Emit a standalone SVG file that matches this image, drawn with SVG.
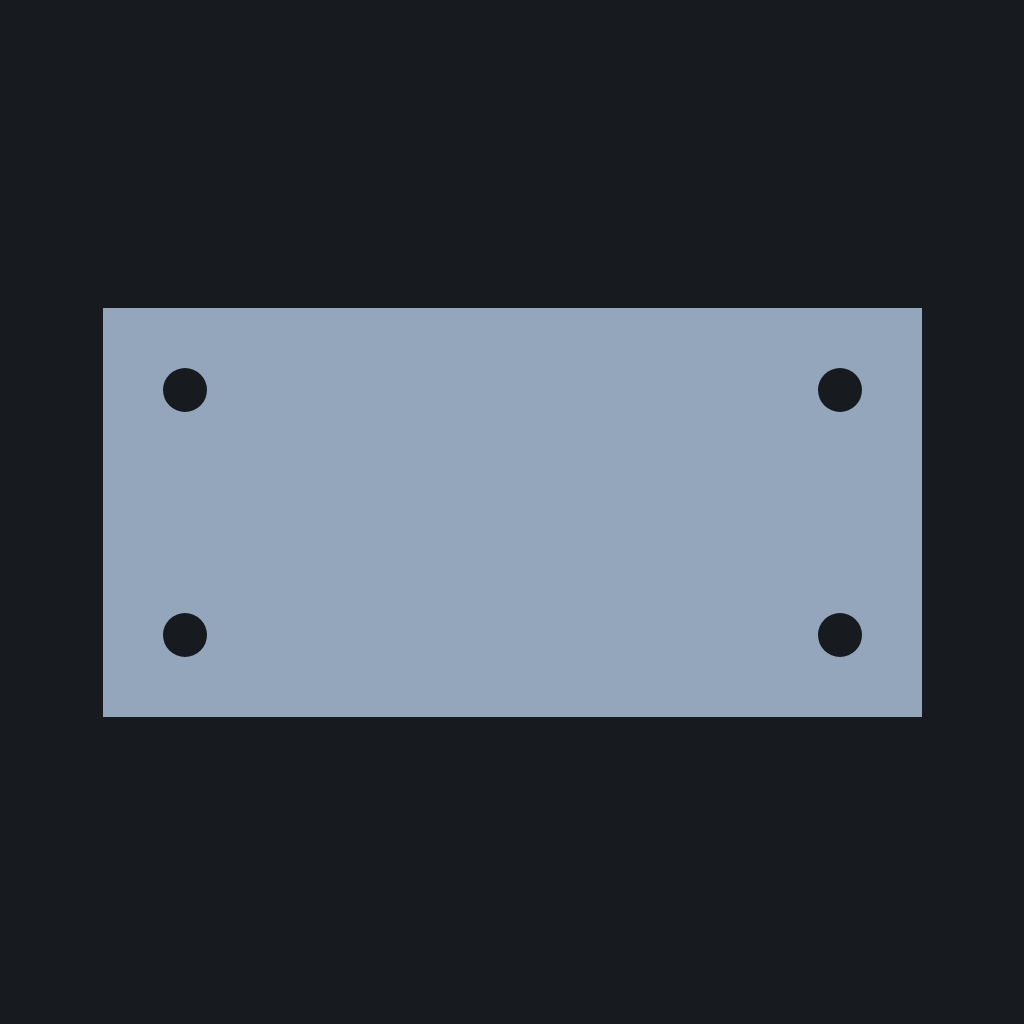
<svg xmlns="http://www.w3.org/2000/svg" width="1024" height="1024" viewBox="0 0 1024 1024">
<style>
.hole{fill:#171a1f}
</style>
<rect width="1024" height="1024" fill="#171a1f"/>
<g id="plate">
<rect x="103" y="308" width="819" height="409" fill="#93a6bb"/>
<circle class="hole" cx="185" cy="390" r="22"/>
<circle class="hole" cx="840" cy="390" r="22"/>
<circle class="hole" cx="185" cy="635" r="22"/>
<circle class="hole" cx="840" cy="635" r="22"/>
</g>
</svg>
